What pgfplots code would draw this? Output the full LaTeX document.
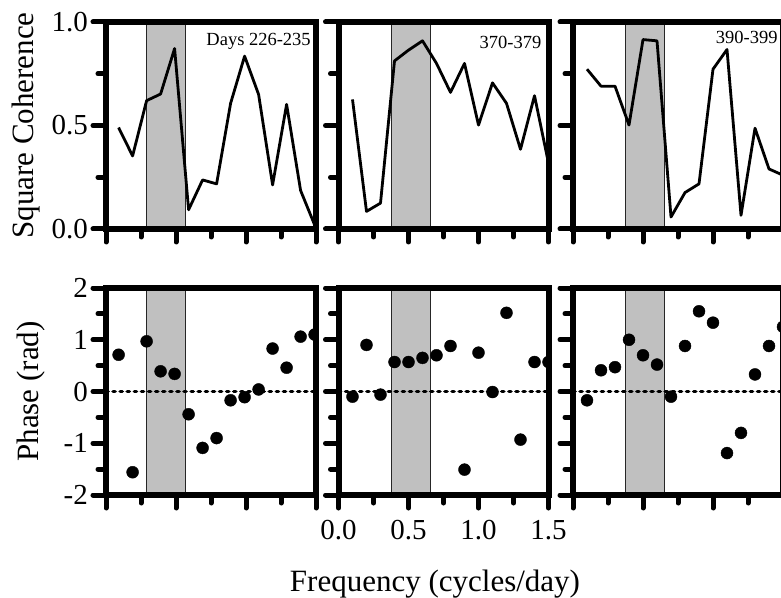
\documentclass[border=0pt]{standalone}
\usepackage{fontspec}
\setmainfont{Liberation Serif}
\usepackage{pgfplots}
\pgfplotsset{compat=1.18}

\definecolor{bandgray}{RGB}{192,192,192}

\tikzset{
  daylabel/.style={font=\fontsize{18.5}{20}\selectfont, anchor=east, inner sep=0pt},
}

\pgfplotsset{
  panel/.style={
    scale only axis, width=210pt, height=207pt,
    anchor=south west,
    xmin=0, xmax=1.5,
    xtick={0,0.5,1,1.5}, minor xtick={0.25,0.75,1.25},
    xticklabels={},
    xtick pos=bottom, ytick pos=left,
    tick align=outside,
    major tick length=13pt, minor tick length=8pt,
    tick style={black, line width=5pt, line cap=round},
    axis line style={line width=6pt, line cap=rect},
    axis on top,
    clip marker paths=true,
    tick label style={font=\fontsize{29}{31}\selectfont, inner sep=0pt},
    xticklabel style={anchor=north, yshift=-12pt},
    yticklabel style={anchor=east, xshift=-5pt},
    ylabel style={font=\fontsize{31}{33}\selectfont, inner sep=0pt, anchor=base},
    xlabel style={font=\fontsize{31}{33}\selectfont, inner sep=0pt, anchor=base},
  },
  coh/.style={panel, ymin=0, ymax=1, ytick={0,0.5,1},
    minor ytick={0.25,0.75}, yticklabels={}},
  phase/.style={panel, ymin=-2, ymax=2, ytick={-2,-1,0,1,2},
    minor ytick={-1.5,-0.5,0.5,1.5}, yticklabels={}},
  band/.style={fill=bandgray, draw=black!85, line width=0.9pt},
  cohline/.style={black, line width=2.8pt, line join=round, mark=none},
  dots/.style={only marks, mark=*, mark size=6pt, black},
  zeroline/.style={black, line width=3.8pt, line cap=round,
    dash pattern=on 2pt off 5.1pt},
}

\begin{document}
\begin{tikzpicture}

% ---- top row: square coherence ----
\begin{axis}[coh, at={(106pt,368pt)},
  yticklabels={0.0,0.5,1.0},
  ylabel={Square Coherence},
  ylabel style={at={(axis description cs:-0.3476,0.5)}}]
\addplot[band] coordinates {(0.29,0) (0.29,1) (0.57,1) (0.57,0)} -- cycle;
\addplot[cohline] coordinates {
  (0.09,0.490) (0.19,0.353) (0.29,0.620) (0.39,0.652) (0.49,0.872)
  (0.59,0.093) (0.69,0.237) (0.79,0.218) (0.89,0.607) (0.99,0.835)
  (1.09,0.650) (1.19,0.213) (1.29,0.602) (1.39,0.186) (1.49,0.020)};
\node[daylabel] at (rel axis cs:0.976,0.905) {Days 226-235};
\end{axis}

\begin{axis}[coh, at={(338.5pt,368pt)}]
\addplot[band] coordinates {(0.38,0) (0.38,1) (0.66,1) (0.66,0)} -- cycle;
\addplot[cohline] coordinates {
  (0.1,0.626) (0.2,0.085) (0.3,0.125) (0.4,0.812) (0.5,0.864)
  (0.6,0.909) (0.7,0.800) (0.8,0.660) (0.9,0.800) (1.0,0.502)
  (1.1,0.706) (1.2,0.607) (1.3,0.385) (1.4,0.644) (1.5,0.318)};
\node[daylabel] at (rel axis cs:0.967,0.903) {370-379};
\end{axis}

\begin{axis}[coh, at={(573pt,368pt)}]
\addplot[band] coordinates {(0.375,0) (0.375,1) (0.655,1) (0.655,0)} -- cycle;
\addplot[cohline] coordinates {
  (0.1,0.772) (0.2,0.690) (0.3,0.690) (0.4,0.502) (0.5,0.915)
  (0.6,0.909) (0.7,0.058) (0.8,0.176) (0.9,0.218) (1.0,0.772)
  (1.1,0.867) (1.2,0.066) (1.3,0.487) (1.4,0.290) (1.5,0.260)};
\node[daylabel] at (rel axis cs:0.975,0.925) {390-399};
\end{axis}

% ---- bottom row: phase ----
\begin{axis}[phase, at={(106pt,102pt)},
  yticklabels={-2,-1,0,1,2},
  ylabel={Phase (rad)},
  ylabel style={at={(axis description cs:-0.321,0.5)}}]
\addplot[band] coordinates {(0.29,-2) (0.29,2) (0.57,2) (0.57,-2)} -- cycle;
\addplot[zeroline] coordinates {(0,0) (1.5,0)};
\addplot[dots] coordinates {
  (0.09,0.71) (0.19,-1.56) (0.29,0.97) (0.39,0.39) (0.49,0.34)
  (0.59,-0.44) (0.69,-1.09) (0.79,-0.90) (0.89,-0.17) (0.99,-0.11)
  (1.09,0.04) (1.19,0.83) (1.29,0.46) (1.39,1.06) (1.49,1.10)};
\end{axis}

\begin{axis}[phase, at={(338.5pt,102pt)},
  xticklabels={0.0,0.5,1.0,1.5},
  xlabel={Frequency (cycles/day)},
  xlabel style={at={(axis description cs:0.4595,-0.4638)}}]
\addplot[band] coordinates {(0.38,-2) (0.38,2) (0.66,2) (0.66,-2)} -- cycle;
\addplot[zeroline] coordinates {(0,0) (1.5,0)};
\addplot[dots] coordinates {
  (0.1,-0.10) (0.2,0.90) (0.3,-0.06) (0.4,0.57) (0.5,0.57)
  (0.6,0.65) (0.7,0.70) (0.8,0.88) (0.9,-1.51) (1.0,0.75)
  (1.1,-0.01) (1.2,1.52) (1.3,-0.93) (1.4,0.57) (1.5,0.57)};
\end{axis}

\begin{axis}[phase, at={(573pt,102pt)}]
\addplot[band] coordinates {(0.375,-2) (0.375,2) (0.655,2) (0.655,-2)} -- cycle;
\addplot[zeroline] coordinates {(0,0) (1.5,0)};
\addplot[dots] coordinates {
  (0.1,-0.17) (0.2,0.41) (0.3,0.47) (0.4,1.00) (0.5,0.70)
  (0.6,0.52) (0.7,-0.10) (0.8,0.88) (0.9,1.55) (1.0,1.33)
  (1.1,-1.19) (1.2,-0.80) (1.3,0.33) (1.4,0.88) (1.5,1.25)};
\end{axis}

\pgfresetboundingbox
\useasboundingbox (0pt,0pt) rectangle (781pt,597pt);
\end{tikzpicture}
\end{document}
